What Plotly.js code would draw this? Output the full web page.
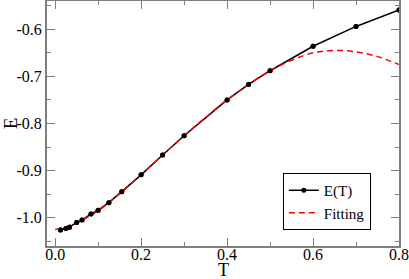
<!DOCTYPE html>
<html>
<head>
<meta charset="utf-8">
<script src="https://cdn.plot.ly/plotly-3.0.1.min.js"></script>
<style>html,body{margin:0;padding:0;background:#fff;}#chart{width:409px;height:279px;}</style>
</head>
<body>
<div id="chart"></div>
<script>
// Data
const T = [0.0125, 0.025, 0.0333, 0.05, 0.0625, 0.0833, 0.1, 0.125, 0.155, 0.2, 0.25, 0.3, 0.4, 0.45, 0.5, 0.6, 0.7, 0.8];
const E = [-1.026, -1.023, -1.020, -1.010, -1.005, -0.992, -0.984, -0.968, -0.945, -0.909, -0.867, -0.826, -0.750, -0.717, -0.688, -0.636, -0.594, -0.559];
const Tfit = [0, 0.05, 0.1, 0.15, 0.2, 0.25, 0.3, 0.35, 0.4, 0.45, 0.5, 0.55, 0.6, 0.65, 0.7, 0.75, 0.8];
const Efit = [-1.025, -1.011, -0.985, -0.949, -0.909, -0.867, -0.826, -0.787, -0.750, -0.717, -0.688, -0.666, -0.650, -0.645, -0.648, -0.658, -0.675];
const xTickVals = [0, 0.2, 0.4, 0.6, 0.8];
const xTickText = ['0.0', '0.2', '0.4', '0.6', '0.8'];
const yTickVals = [-1.0, -0.9, -0.8, -0.7, -0.6];
const yTickText = ['-1.0', '-0.9', '-0.8', '-0.7', '-0.6'];
const xTitle = 'T';
const yTitle = 'E';

const fnt = '"Liberation Serif", "Times New Roman", serif';
const axisColor = '#7f7f7f';

const traces = [
  {x: T, y: E, mode: 'lines+markers', name: 'E(T)',
   line: {color: '#000', width: 1.5},
   marker: {color: '#000', size: 5}},
  {x: Tfit, y: Efit, mode: 'lines', name: 'Fitting',
   line: {color: '#ff0000', width: 1.5, dash: '6px,4px', shape: 'spline'}},
  {x: T, y: E, mode: 'markers', showlegend: false, hoverinfo: 'skip',
   marker: {color: '#000', size: 5}}
];

const axisCommon = {
  showgrid: false, zeroline: false,
  showline: true, linecolor: axisColor, linewidth: 2, mirror: 'allticks',
  ticks: 'inside', ticklen: 8, tickwidth: 1, tickcolor: axisColor,
  tickmode: 'array',
  tickfont: {family: fnt, size: 16, color: '#000'}
};

const layout = {
  width: 409, height: 279,
  margin: {l: 47, r: 10, t: 1, b: 33},
  paper_bgcolor: '#fff', plot_bgcolor: '#fff',
  font: {family: fnt, size: 16, color: '#000'},
  showlegend: true,
  legend: {x: 0.67, y: 0.298, xanchor: 'left', yanchor: 'top',
    bgcolor: '#fff', bordercolor: '#000', borderwidth: 1,
    font: {family: fnt, size: 15, color: '#000'},
    itemwidth: 30},
  xaxis: Object.assign({}, axisCommon, {
    range: [-0.019, 0.8], tickvals: xTickVals, ticktext: xTickText,
    ticklabelstandoff: -7,
    minor: {dtick: 0.1, tick0: 0, ticks: 'inside', ticklen: 4, tickcolor: axisColor, tickwidth: 1, showgrid: false}
  }),
  yaxis: Object.assign({}, axisCommon, {
    range: [-1.06, -0.54], tickvals: yTickVals, ticktext: yTickText,
    minor: {dtick: 0.05, tick0: 0, ticks: 'inside', ticklen: 4, tickcolor: axisColor, tickwidth: 1, showgrid: false},
    title: {text: yTitle, font: {family: fnt, size: 19, color: '#000'}}
  }),
  annotations: [
    {text: xTitle, xref: 'paper', yref: 'paper', x: 0.5, y: -0.096,
     xanchor: 'center', yanchor: 'middle', showarrow: false,
     font: {family: fnt, size: 18, color: '#000'}}
  ]
};

Plotly.newPlot('chart', traces, layout, {displayModeBar: false, staticPlot: true});
</script>
</body>
</html>
